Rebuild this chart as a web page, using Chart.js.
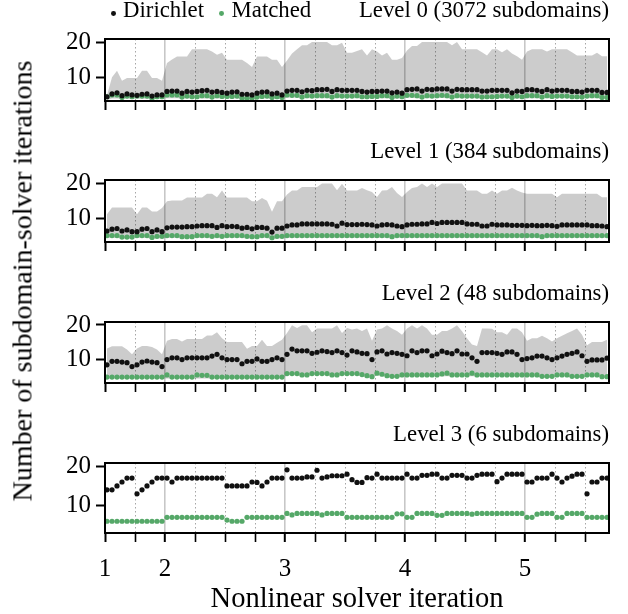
<!DOCTYPE html>
<html>
<head>
<meta charset="utf-8">
<script src="https://cdn.jsdelivr.net/npm/chart.js@4.4.1/dist/chart.umd.min.js"></script>
<style>
html,body{margin:0;padding:0;background:#fff;}
#root{position:relative;width:628px;height:614px;overflow:hidden;font-family:"Liberation Serif",serif;color:#000;}
.wrap{position:absolute;left:0;width:628px;}
.ttl{position:absolute;right:19px;white-space:nowrap;}
.ylab{position:absolute;white-space:nowrap;transform-origin:center center;}
.legtxt{position:absolute;white-space:nowrap;}
.legdot{position:absolute;border-radius:50%;}
</style>
</head>
<body>
<div id="root"></div>
<script>
// ---------------- data ----------------
const NL_STARTS = [0, 12, 36, 60, 84];          // linear-iteration index where each nonlinear iteration begins
const NL_LABELS = ['1', '2', '3', '4', '5'];    // x tick labels
const MINOR_TICKS = [6, 18, 24, 30, 42, 48, 54, 66, 72, 78, 90, 96];
const Y_TICKS = [10, 20];
const SERIES_NAMES = ['Dirichlet', 'Matched'];
const LEVEL_TITLES = ['Level 0 (3072 subdomains)', 'Level 1 (384 subdomains)', 'Level 2 (48 subdomains)', 'Level 3 (6 subdomains)'];
const X_LABEL = 'Nonlinear solver iteration';
const Y_LABEL = 'Number of subdomain-solver iterations';

// Level 0
const dir0 = [4.6,5.4,5.7,4.9,5.4,5.1,5.0,5.3,5.4,4.8,5.1,5.1,
  6.1,6.2,6.2,5.6,6.1,5.9,6.1,6.3,6.4,5.9,6.1,5.8,5.6,5.9,6.0,5.3,5.3,5.1,5.6,5.9,6.0,5.4,5.6,5.1,
  6.2,6.4,6.4,6.0,6.4,6.3,6.6,6.6,6.7,6.1,6.6,6.4,6.4,6.4,6.4,6.1,5.9,6.1,6.1,6.2,6.2,5.7,5.9,5.6,
  6.6,6.7,6.8,6.2,6.7,6.6,6.8,6.8,6.8,6.2,6.7,6.6,6.6,6.6,6.6,6.2,6.2,6.4,6.4,6.4,6.4,5.7,6.2,6.1,
  6.6,6.6,6.4,6.1,6.6,6.2,6.4,6.4,6.4,6.1,6.1,5.9,6.4,6.4,6.4,5.8,5.8];
const mat0 = [4.6,5.1,5.1,4.4,4.8,4.6,4.8,4.8,4.8,4.2,4.6,4.6,
  5.1,5.1,5.1,4.5,4.8,4.6,4.6,4.9,4.9,4.5,4.9,4.7,4.7,4.7,4.8,4.2,4.2,4.2,4.5,4.7,4.8,4.4,4.6,4.4,
  5.1,5.0,5.0,4.5,4.9,4.8,4.9,4.9,4.9,4.5,4.9,4.8,4.8,4.8,4.9,4.6,4.6,4.7,4.7,4.9,4.9,4.4,4.8,4.6,
  5.0,5.0,4.9,4.5,4.9,4.8,4.9,5.0,4.9,4.5,4.9,4.8,4.8,4.8,4.8,4.5,4.6,4.6,4.7,4.8,4.8,4.4,4.8,4.6,
  4.9,4.9,4.9,4.5,4.9,4.7,4.8,4.8,4.8,4.6,4.6,4.5,4.8,4.9,4.9,4.4,4.4];
const max0 = [5.0,10.1,11.9,9.1,9.9,9.9,9.9,11.9,11.9,9.9,9.9,9.1,
  14.1,15.1,15.9,15.9,15.9,18.0,18.0,18.0,18.0,17.3,16.4,17.0,15.0,15.0,15.0,15.0,14.1,13.0,15.9,15.9,15.9,15.0,15.0,13.0,
  14.8,16.8,18.0,19.1,19.1,20.0,20.0,20.0,20.0,19.1,19.1,19.8,17.0,17.0,17.5,18.0,16.2,18.0,17.3,16.2,17.0,15.0,15.0,15.5,
  17.6,18.9,18.9,20.0,20.0,20.0,20.0,20.0,20.0,19.1,20.0,18.0,18.0,18.0,18.0,17.1,16.2,18.0,18.0,17.1,18.0,16.8,16.0,15.0,
  17.3,18.0,18.0,18.0,17.3,18.0,18.0,18.0,18.0,17.1,16.2,16.2,16.2,16.2,17.0,16.0,16.0];
const min0 = [3.7,4.1,4.1,4.0,4.0,4.0,4.0,4.0,4.0,3.9,4.0,4.0,
  4.2,4.2,4.2,4.1,4.1,4.1,4.1,4.1,4.1,4.1,4.1,4.1,4.1,4.1,4.1,3.9,3.9,3.9,4.0,4.1,4.1,4.0,4.0,4.0,
  4.3,4.3,4.3,4.1,4.2,4.2,4.2,4.2,4.2,4.1,4.2,4.2,4.2,4.2,4.2,4.1,4.1,4.1,4.1,4.2,4.2,4.0,4.1,4.1,
  4.3,4.3,4.2,4.1,4.2,4.2,4.2,4.3,4.2,4.1,4.2,4.2,4.2,4.2,4.2,4.1,4.1,4.1,4.1,4.2,4.2,4.0,4.1,4.1,
  4.2,4.2,4.2,4.1,4.2,4.1,4.2,4.2,4.2,4.1,4.1,4.1,4.2,4.2,4.2,4.0,4.0];

// Level 1
const dir1 = [6.5,7.0,7.2,6.5,6.8,6.3,6.3,7.0,7.2,6.3,6.8,6.3,
  7.4,7.6,7.6,7.6,7.7,7.7,7.9,8.0,8.0,8.0,7.5,8.0,7.7,7.8,7.7,7.3,7.5,7.1,7.5,7.5,7.3,6.2,7.3,7.3,
  7.9,8.2,8.2,8.5,8.5,8.5,8.5,8.5,8.5,8.4,7.9,8.7,8.3,8.3,8.3,8.4,8.3,8.2,7.9,8.2,8.3,8.2,7.9,7.7,
  8.2,8.4,8.4,8.5,8.5,8.9,8.6,8.9,8.9,8.9,8.9,8.9,8.5,8.4,8.4,7.9,7.9,8.4,8.2,8.2,8.2,8.1,8.1,8.1,
  8.0,8.1,8.0,8.0,8.1,8.0,7.8,8.2,8.2,8.2,8.2,8.2,8.2,8.0,8.0,7.9,7.7];
const mat1 = [5.2,5.2,5.2,4.8,4.8,4.8,5.2,5.2,5.2,4.7,5.0,5.0,
  5.2,5.2,5.2,4.9,4.9,4.9,5.2,5.2,5.2,5.0,5.2,5.0,5.2,5.2,5.2,5.2,5.0,4.9,4.9,5.2,5.2,4.6,5.0,5.0,
  5.2,5.2,5.2,5.2,5.2,5.2,5.2,5.2,5.2,5.2,5.2,5.2,5.2,5.2,5.2,5.2,5.2,5.2,5.2,5.2,5.2,4.9,5.2,5.2,
  5.2,5.2,5.2,5.2,5.2,5.2,5.2,5.2,5.2,5.2,5.2,5.2,5.2,5.2,5.2,5.2,5.2,5.2,5.2,5.2,5.2,5.2,5.2,5.2,
  5.2,5.2,5.2,4.9,5.2,5.2,5.2,5.2,5.2,5.2,5.2,5.2,5.2,5.2,5.2,5.2,5.2];
const max1 = [11.2,13.1,13.1,13.1,13.1,13.1,11.2,13.1,13.1,12.0,12.0,13.0,
  14.9,15.1,15.1,15.1,15.9,15.9,15.9,15.9,17.0,17.0,16.0,17.9,15.9,15.9,15.9,15.9,15.9,14.9,14.9,15.8,15.0,11.9,14.9,14.9,
  16.8,17.9,17.9,18.9,18.9,18.9,18.9,19.9,19.9,19.9,18.0,19.8,17.9,17.9,17.9,18.6,18.0,17.5,16.1,17.9,18.0,18.9,17.2,16.1,
  17.5,18.6,18.9,19.9,18.9,19.9,18.9,19.9,19.9,19.9,19.9,19.9,17.9,17.9,17.9,17.0,17.0,17.9,17.0,17.9,17.9,18.7,17.9,17.3,
  17.0,17.0,17.0,17.0,17.0,17.0,16.0,17.0,17.0,17.0,17.0,17.0,17.0,17.0,17.0,16.0,16.0];
const min1 = [4.5,4.5,4.5,4.4,4.4,4.4,4.5,4.5,4.5,4.3,4.4,4.4,
  4.5,4.5,4.5,4.4,4.4,4.4,4.5,4.5,4.5,4.4,4.5,4.4,4.5,4.5,4.5,4.5,4.4,4.4,4.4,4.5,4.5,4.2,4.4,4.4,
  4.5,4.5,4.5,4.5,4.5,4.5,4.5,4.5,4.5,4.5,4.5,4.5,4.5,4.5,4.5,4.5,4.5,4.5,4.5,4.5,4.5,4.4,4.5,4.5,
  4.5,4.5,4.5,4.5,4.5,4.5,4.5,4.5,4.5,4.5,4.5,4.5,4.5,4.5,4.5,4.5,4.5,4.5,4.5,4.5,4.5,4.5,4.5,4.5,
  4.5,4.5,4.5,4.4,4.5,4.5,4.5,4.5,4.5,4.5,4.5,4.5,4.5,4.5,4.5,4.5,4.5];

// Level 2
const dir2 = [8.6,9.6,9.6,9.4,9.2,8.1,8.6,9.4,9.7,9.4,9.2,8.1,
  10.1,10.6,10.6,10.1,10.6,10.6,10.6,10.6,10.6,11.1,11.6,10.6,10.1,10.1,10.1,8.9,9.6,9.6,10.3,9.6,9.6,10.1,10.6,10.1,
  11.6,13.1,12.6,12.6,12.6,11.9,12.2,12.6,12.4,12.1,12.6,12.1,11.4,12.6,12.3,11.9,11.8,10.1,12.3,12.6,11.7,12.1,11.9,11.6,
  11.2,12.6,12.1,12.6,12.6,11.2,11.7,12.5,12.1,11.8,12.6,11.7,11.7,10.6,9.6,12.1,12.1,12.1,11.9,11.6,12.3,12.3,11.6,10.1,
  10.4,10.6,11.1,11.1,10.6,10.1,10.6,11.1,11.6,11.9,12.3,11.2,9.6,10.0,10.0,10.0,10.5];
const mat2 = [5.1,5.1,5.1,5.1,5.1,5.1,5.1,5.1,5.1,5.1,5.1,5.1,
  5.7,5.1,5.1,5.1,5.1,5.1,5.7,5.6,5.6,5.1,5.1,5.1,5.1,5.1,5.1,5.1,5.1,5.1,5.1,5.1,5.1,5.1,5.1,5.1,
  6.1,6.1,6.1,5.7,5.7,6.1,6.1,6.1,6.1,5.7,5.7,6.1,6.1,6.1,6.1,5.8,5.5,5.2,6.2,5.9,5.5,5.3,5.3,5.7,
  5.7,5.7,5.7,5.7,5.7,5.7,5.7,6.0,6.2,5.7,5.7,5.7,5.7,6.2,5.7,5.7,5.7,5.7,5.7,5.7,5.7,5.7,5.7,5.7,
  5.7,5.7,5.7,5.3,5.3,5.3,5.7,5.7,5.7,5.3,5.3,5.3,5.7,5.7,5.7,5.2,5.2];
const max2 = [13.3,13.9,13.9,13.9,13.0,11.6,13.3,14.0,14.0,13.7,13.0,11.6,
  15.5,16.0,16.0,15.3,16.0,16.0,16.0,16.0,17.0,17.0,17.9,16.2,15.1,15.1,15.1,15.1,13.2,14.0,14.0,15.8,14.0,14.0,14.9,15.8,
  17.7,19.9,19.1,19.9,19.9,17.9,19.0,19.0,19.0,19.0,19.9,17.7,19.1,18.7,19.0,18.3,19.0,15.5,18.7,19.0,19.9,19.0,18.3,17.2,
  19.0,19.9,19.0,19.9,19.0,17.2,17.2,18.3,18.3,19.0,19.9,18.2,16.2,14.4,14.0,19.0,19.0,18.9,17.9,17.9,17.2,19.0,19.0,17.9,
  15.5,16.2,16.2,16.9,16.2,15.3,16.2,16.9,17.6,18.3,19.0,17.2,14.2,15.1,15.1,15.1,15.8];
const min2 = [4.7,4.7,4.7,4.7,4.7,4.7,4.7,4.7,4.7,4.7,4.7,4.7,
  4.7,4.7,4.7,4.7,4.7,4.7,4.7,4.7,4.7,4.7,4.7,4.7,4.7,4.7,4.7,4.7,4.7,4.7,4.7,4.7,4.7,4.7,4.7,4.7,
  5.6,5.6,5.6,5.3,5.3,5.6,5.6,5.6,5.6,5.3,5.3,5.6,5.6,5.6,5.6,5.2,5.0,4.9,5.6,5.5,5.1,4.9,4.9,5.3,
  5.3,5.3,5.3,5.3,5.3,5.3,5.3,5.3,5.3,5.3,5.3,5.3,5.3,5.3,5.3,5.3,5.3,5.3,5.3,5.3,5.3,5.3,5.3,5.3,
  5.3,5.3,5.3,4.9,4.9,4.9,5.3,5.3,5.3,4.9,4.9,4.9,5.3,5.3,5.3,4.8,4.8];

// Level 3
const dir3 = [14,14,15,16,17,17,13,14,15,16,17,17,
  17,16,17,17,17,17,17,17,17,17,17,17,15,15,15,15,15,16,15.9,15,16,17,17,17,
  19.1,17,17,17,17.3,17.3,19,17,17.3,17.6,17.6,17.6,18,16.6,15.9,15.9,17.1,17,18,17,17,17,17,17,
  18,17,17,17.7,17.7,18,18,17,17,17.7,17.7,17.7,17,17,17.7,18,18,18,16.1,17,18,18,18,18,
  16,16,17,17,17,18,17,16,17,17.5,18,18,13,16,16,17,17];
const mat3 = [6,6,6,6,6,6,6,6,6,6,6,6,
  7,7,7,7,7,7,7,7,7,7,7,7,6.3,6,6,6,7,7,7,7,7,7,7,7,
  8,7.6,8,8,8,8,8,7.6,8,8,8,8,7,7,7,7,7,7,7,7,7,7,7.9,7.9,
  7,7,8,8,8,8,7.5,7.5,8,8,8,8,8,7.8,8,8,8,8,8,8,8,8,8,8,
  7,7,7.8,8,8,8,7,7,8,8,8,8,7,7,7,7,7];

const LEVELS = [
  {dir: dir0, mat: mat0, max: max0, min: min0},
  {dir: dir1, mat: mat1, max: max1, min: min1},
  {dir: dir2, mat: mat2, max: max2, min: min2},
  {dir: dir3, mat: mat3, max: null, min: null}
];

// ---------------- layout / style ----------------
const FONT = "'Liberation Serif', serif";
const C_DIR = '#111111';
const C_MAT = '#55a868';
const C_BAND = 'rgba(0,0,0,0.2)';
const X_OFF = 0.4;
const X_MAX = 100.8;
const PLOT_LEFT = 105, PLOT_RIGHT = 609, W = 628;
const GEO = [
  {top: 25,  h: 82, ymin: 3.4, ymax: 20.85},
  {top: 166, h: 82, ymin: 3.4, ymax: 20.85},
  {top: 308, h: 81, ymin: 3.4, ymax: 20.85},
  {top: 449, h: 84, ymin: 3.0, ymax: 20.85}
];
const PADTOP = 6;
const SMALL_FS = 22.8;
const BASE_OFF = 0.8375;   // baseline offset (em) inside a line box of height 1em

const root = document.getElementById('root');

const framePlugin = {
  id: 'frame',
  afterDatasetsDraw(chart) {
    const {ctx, chartArea: a} = chart;
    ctx.save();
    ctx.strokeStyle = '#000';
    ctx.lineWidth = 2;
    ctx.strokeRect(a.left, a.top, a.right - a.left, a.bottom - a.top);
    ctx.restore();
  }
};

const isMajor = v => NL_STARTS.indexOf(v) >= 0;
const ALL_X_TICKS = NL_STARTS.concat(MINOR_TICKS).sort((a, b) => a - b);
const pts = arr => arr.map((v, i) => ({x: i + X_OFF, y: v}));

function makePanel(idx) {
  const g = GEO[idx];
  const lv = LEVELS[idx];
  const bottom = idx === 3;
  const xH = bottom ? (614 - (g.top + g.h)) : 14;
  const wrap = document.createElement('div');
  wrap.className = 'wrap';
  wrap.style.top = (g.top - PADTOP) + 'px';
  wrap.style.height = (PADTOP + g.h + xH) + 'px';
  const cv = document.createElement('canvas');
  wrap.appendChild(cv);
  root.appendChild(wrap);

  const datasets = [
    {label: SERIES_NAMES[0], data: pts(lv.dir), pointRadius: 2.6, pointHoverRadius: 2.6,
     pointBackgroundColor: C_DIR, pointBorderWidth: 0, borderColor: C_DIR, backgroundColor: C_DIR, order: 0},
    {label: SERIES_NAMES[1], data: pts(lv.mat), pointRadius: 2.6, pointHoverRadius: 2.6,
     pointBackgroundColor: C_MAT, pointBorderWidth: 0, borderColor: C_MAT, backgroundColor: C_MAT, order: 1}
  ];
  if (lv.max) {
    datasets.push({label: 'range-max', type: 'line', data: pts(lv.max), pointRadius: 0, borderWidth: 0,
      borderColor: 'rgba(0,0,0,0)', backgroundColor: C_BAND, fill: '+1', tension: 0, order: 2});
    datasets.push({label: 'range-min', type: 'line', data: pts(lv.min), pointRadius: 0, borderWidth: 0,
      borderColor: 'rgba(0,0,0,0)', backgroundColor: C_BAND, fill: false, tension: 0, order: 3});
  }

  new Chart(cv, {
    type: 'scatter',
    data: {datasets},
    options: {
      responsive: true,
      maintainAspectRatio: false,
      animation: false,
      events: [],
      layout: {padding: {top: PADTOP, left: 0, right: W - PLOT_RIGHT, bottom: 0}},
      plugins: {legend: {display: false}, tooltip: {enabled: false}, title: {display: false}},
      scales: {
        x: {
          type: 'linear', min: 0, max: X_MAX,
          afterFit: s => { s.height = xH; },
          afterBuildTicks: s => { s.ticks = ALL_X_TICKS.map(v => ({value: v})); },
          ticks: {
            autoSkip: false, maxRotation: 0, minRotation: 0, padding: 12, color: '#000',
            font: {family: FONT, size: 25},
            callback: v => { const i = NL_STARTS.indexOf(v); return (bottom && i >= 0) ? NL_LABELS[i] : ''; }
          },
          grid: {
            drawOnChartArea: true, drawTicks: true, tickLength: 9,
            color: c => (c.tick && isMajor(c.tick.value)) ? 'rgba(0,0,0,0.22)' : 'rgba(0,0,0,0.35)',
            lineWidth: c => (c.tick && c.tick.value === 0) ? 0.001 : ((c.tick && isMajor(c.tick.value)) ? 1.6 : 1),
            tickColor: '#000',
            tickWidth: c => (c.tick && isMajor(c.tick.value)) ? 2 : 1.6
          },
          border: {display: false, dash: c => (c.tick && isMajor(c.tick.value)) ? [] : [1.5, 2.5]},
          title: bottom ? {display: true, text: X_LABEL, color: '#000', font: {family: FONT, size: 28.5, lineHeight: 1.0}, padding: {top: 0, bottom: 0}} : {display: false}
        },
        y: {
          min: g.ymin, max: g.ymax,
          afterFit: s => { s.width = PLOT_LEFT; },
          afterBuildTicks: s => { s.ticks = Y_TICKS.map(v => ({value: v})); },
          ticks: {padding: 5, color: '#000', font: {family: FONT, size: 25}, callback: v => String(v)},
          grid: {drawOnChartArea: false, drawTicks: true, tickLength: 9, tickWidth: 2, tickColor: '#000'},
          border: {display: false}
        }
      }
    },
    plugins: [framePlugin]
  });

  // panel title (right aligned above the frame)
  const t = document.createElement('div');
  t.className = 'ttl';
  t.textContent = LEVEL_TITLES[idx];
  t.style.fontSize = SMALL_FS + 'px';
  t.style.lineHeight = SMALL_FS + 'px';
  t.style.top = (g.top - 26.5) + 'px';
  root.appendChild(t);
}

for (let i = 0; i < 4; i++) makePanel(i);

// legend
function legItem(dotX, txtX, color, text) {
  const d = document.createElement('div');
  d.className = 'legdot';
  d.style.width = '4.8px'; d.style.height = '4.8px';
  d.style.left = (dotX - 2.4) + 'px'; d.style.top = (13.3 - 2.4) + 'px';
  d.style.background = color;
  root.appendChild(d);
  const s = document.createElement('div');
  s.className = 'legtxt';
  s.textContent = text;
  s.style.fontSize = SMALL_FS + 'px'; s.style.lineHeight = SMALL_FS + 'px';
  s.style.left = txtX + 'px'; s.style.top = (18.3 - BASE_OFF * SMALL_FS) + 'px';
  root.appendChild(s);
}
legItem(113.5, 123, C_DIR, SERIES_NAMES[0]);
legItem(221.7, 231.5, C_MAT, SERIES_NAMES[1]);

// y axis label
const yl = document.createElement('div');
yl.className = 'ylab';
yl.textContent = Y_LABEL;
yl.style.fontSize = '28px';
yl.style.lineHeight = '28px';
root.appendChild(yl);
const r = yl.getBoundingClientRect();
yl.style.left = (22 - r.width / 2) + 'px';
yl.style.top = (281 - r.height / 2) + 'px';
yl.style.transform = 'rotate(-90deg)';
</script>
</body>
</html>
